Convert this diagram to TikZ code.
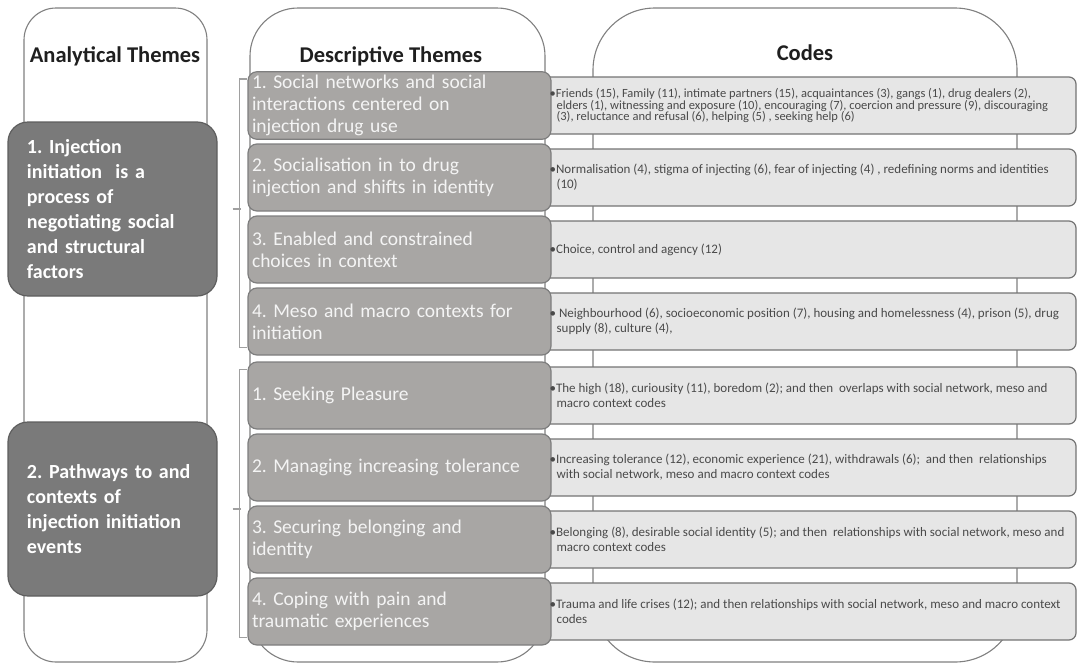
\documentclass[tikz,border=0pt]{standalone}
\usepackage{fontspec}
\setmainfont{Carlito}
\frenchspacing
\usetikzlibrary{calc}
\definecolor{frameline}{HTML}{808080}
\definecolor{descfill}{HTML}{A8A6A4}
\definecolor{descline}{HTML}{7E7E7E}
\definecolor{descink}{HTML}{F4F4F4}
\definecolor{codefill}{HTML}{E6E6E6}
\definecolor{codeline}{HTML}{747474}
\definecolor{codeink}{HTML}{4A4A4A}
\definecolor{anafill}{HTML}{7A7A7A}
\definecolor{analine}{HTML}{5E5E5E}
\definecolor{brace}{HTML}{A0A0A0}
\begin{document}
\begin{tikzpicture}[x=1pt,y=-1pt,
  colframe/.style={draw=frameline, line width=1.1pt, fill=white, inner sep=0pt},
  head/.style={font=\fontsize{22.5}{26}\selectfont\bfseries, text=black!88, inner sep=0pt},
  descbox/.style={draw=descline, line width=1.2pt, fill=descfill, rounded corners=9pt,
    minimum width=303pt, minimum height=67pt, inner xsep=4pt, text width=295pt,
    align=left, text=descink, font=\fontsize{19.5}{22}\selectfont},
  codebox/.style={draw=codeline, line width=1.2pt, fill=codefill, rounded corners=7pt,
    minimum width=538pt, minimum height=57pt, inner sep=0pt},
  codetext/.style={anchor=west, align=left, text=codeink, inner sep=0pt,
    font=\fontsize{13}{15}\selectfont},
  anabox/.style={draw=analine, line width=1.2pt, fill=anafill, rounded corners=20pt,
    minimum width=209pt, minimum height=174pt, inner xsep=19pt, text width=171pt,
    align=left, text=white, font=\fontsize{20}{25}\selectfont\bfseries},
  bracket/.style={draw=brace, line width=1.3pt}
]
\useasboundingbox (0,0) rectangle (1079,664);

% column frames
\node[colframe, rounded corners=32pt, minimum width=183pt, minimum height=654pt] (colA) at (115.5,335) {};
\node[colframe, rounded corners=48pt, minimum width=295pt, minimum height=654pt] (colD) at (397.5,335) {};
\node[colframe, rounded corners=62pt, minimum width=424pt, minimum height=654pt] (colC) at (805,335) {};

% column headings
\node[head] (hA) at (115,56) {Analytical Themes};
\node[head] (hD) at (391,56) {Descriptive Themes};
\node[head] (hC) at (805,53) {Codes};

% code boxes (drawn under the descriptive boxes)
\node[codebox] (c1) at (807,105.5) {};
\node[codebox] (c2) at (807,177.5) {};
\node[codebox] (c3) at (807,249.5) {};
\node[codebox] (c4) at (807,321.5) {};
\node[codebox] (c5) at (807,395.5) {};
\node[codebox] (c6) at (807,467.5) {};
\node[codebox] (c7) at (807,539.5) {};
\node[codebox] (c8) at (807,611.5) {};

% descriptive themes
\node[descbox] (d1) at (399.5,105.5) {1. Social networks and social\\interactions centered on\\injection drug use};
\node[descbox] (d2) at (399.5,177.5) {2. Socialisation in to drug\\injection and shifts in identity};
\node[descbox] (d3) at (399.5,249.5) {3. Enabled and constrained\\choices in context};
\node[descbox] (d4) at (399.5,321.5) {4. Meso and macro contexts for\\initiation};
\node[descbox] (d5) at (399.5,395.5) {1. Seeking Pleasure};
\node[descbox] (d6) at (399.5,467.5) {2. Managing increasing tolerance};
\node[descbox] (d7) at (399.5,539.5) {3. Securing belonging and\\identity};
\node[descbox] (d8) at (399.5,611.5) {4. Coping with pain and\\traumatic experiences};

% code lists
\node[codetext, font=\fontsize{12.5}{11.5}\selectfont] (t1) at ($(c1.west)+(12,0)$)
  {•Friends (15), Family (11), intimate partners (15), acquaintances (3), gangs (1), drug dealers (2),\\
   \hspace*{7pt}elders (1), witnessing and exposure (10), encouraging (7), coercion and pressure (9), discouraging\\
   \hspace*{7pt}(3), reluctance and refusal (6), helping (5) , seeking help (6)};
\node[codetext] (t2) at ($(c2.west)+(12,0)$)
  {•Normalisation (4), stigma of injecting (6), fear of injecting (4) , redefining norms and identities\\
   \hspace*{7pt}(10)};
\node[codetext] (t3) at ($(c3.west)+(12,0)$) {•Choice, control and agency (12)};
\node[codetext] (t4) at ($(c4.west)+(12,0)$)
  {• Neighbourhood (6), socioeconomic position (7), housing and homelessness (4), prison (5), drug\\
   \hspace*{7pt}supply (8), culture (4),};
\node[codetext] (t5) at ($(c5.west)+(12,0)$)
  {•The high (18), curiousity (11), boredom (2); and then\ \ overlaps with social network, meso and\\
   \hspace*{7pt}macro context codes};
\node[codetext] (t6) at ($(c6.west)+(12,0)$)
  {•Increasing tolerance (12), economic experience (21), withdrawals (6);\ \ and then\ \ relationships\\
   \hspace*{7pt}with social network, meso and macro context codes};
\node[codetext] (t7) at ($(c7.west)+(12,0)$)
  {•Belonging (8), desirable social identity (5); and then\ \ relationships with social network, meso and\\
   \hspace*{7pt}macro context codes};
\node[codetext] (t8) at ($(c8.west)+(12,0)$)
  {•Trauma and life crises (12); and then relationships with social network, meso and macro context\\
   \hspace*{7pt}codes};

% analytical themes
\node[anabox] (a1) at (112.5,209) {1. Injection\\initiation\ \ is a\\process of\\negotiating social\\and structural\\factors};
\node[anabox] (a2) at (112.5,509) {2. Pathways to and\\contexts of\\injection initiation\\events};

% brackets grouping descriptive themes under each analytical theme
\draw[bracket] ($(d1.north west)+(0,8)$) -- ++(-8,0) |- ($(d4.south west)+(0,-8)$);
\draw[bracket] ($(a1.east)+(15,0)$) -- ++(8,0);
\draw[bracket] ($(d5.north west)+(0,8)$) -- ++(-8,0) |- ($(d8.south west)+(0,-8)$);
\draw[bracket] ($(a2.east)+(15,0)$) -- ++(8,0);
\end{tikzpicture}
\end{document}
